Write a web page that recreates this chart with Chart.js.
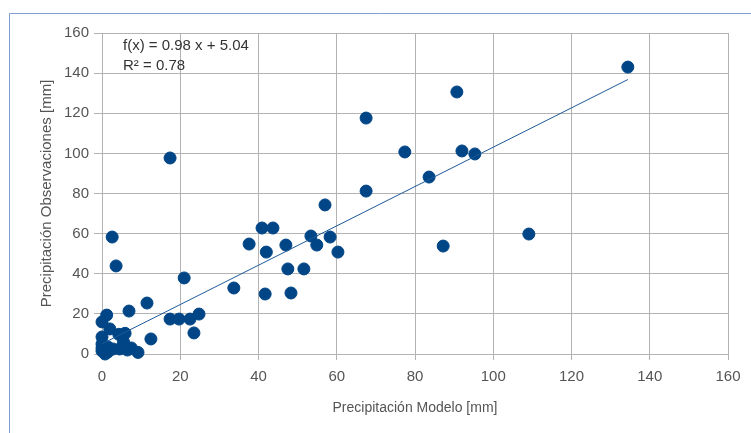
<!DOCTYPE html>
<html>
<head>
<meta charset="utf-8">
<script src="https://cdn.jsdelivr.net/npm/chart.js@4/dist/chart.umd.min.js"></script>
<style>
  html, body { margin: 0; padding: 0; background: #fff; }
  #wrap { width: 751px; height: 433px; position: relative; }
</style>
</head>
<body>
<div id="wrap"><canvas id="myChart"></canvas></div>
<script>
// model precipitation (x) vs observed precipitation (y), in mm
var modelo = [134.4, 90.7, 67.5, 77.4, 92.0, 95.3, 17.4, 83.6, 67.5, 57.0,
              40.9, 43.7, 37.6, 47.0, 53.4, 58.3, 54.9, 42.0, 60.3, 87.2,
              109.1, 2.6, 3.6, 47.5, 51.6, 21.0, 33.7, 41.7, 48.3, 11.5,
              6.9, 1.2, 24.8, 17.4, 19.7, 22.5, 0, 2.0, 23.5, 12.5,
              5.9, 4.3, 0, 0, 0, 0.8, 1.5, 2.8, 4.5, 5.8,
              6.5, 7.5, 9.2, 0, 1.5, 5.5];
var observado = [143.0, 130.6, 117.6, 100.7, 101.2, 99.7, 97.7, 88.2, 81.2, 74.3,
                 62.8, 62.8, 54.8, 54.3, 58.8, 58.3, 54.3, 50.8, 50.8, 53.8,
                 59.8, 58.3, 43.9, 42.4, 42.4, 37.9, 32.9, 29.9, 30.4, 25.4,
                 21.4, 19.4, 19.9, 17.4, 17.4, 17.4, 16, 12.5, 10.5, 7.5,
                 10.3, 9.8, 8.5, 5, 1.5, 0, 1, 2.5, 2.5, 4,
                 2, 3, 0.8, 3, 3.5, 6];
// linear trend line end points: f(x) = 0.98 x + 5.04
var tendenciaX = [0, 134.4];
var tendenciaY = [5.04, 136.8];
var ticks = [0, 20, 40, 60, 80, 100, 120, 140, 160];
var ecuacion = ['f(x) = 0.98 x + 5.04', 'R\u00b2 = 0.78'];

var puntos = [];
for (var i = 0; i < modelo.length; i++) {
    puntos.push({ x: modelo[i], y: observado[i] });
}
var linea = [];
for (var i = 0; i < tendenciaX.length; i++) {
    linea.push({ x: tendenciaX[i], y: tendenciaY[i] });
}

var marco = {
    id: 'marco',
    beforeDraw: function (chart) {
        var c = chart.ctx;
        c.save();
        c.fillStyle = '#ffffff';
        c.fillRect(0, 0, chart.width, chart.height);
        c.strokeStyle = '#7f9fcf';
        c.lineWidth = 1;
        c.beginPath();
        c.moveTo(9.5, chart.height);
        c.lineTo(9.5, 13.5);
        c.lineTo(chart.width, 13.5);
        c.stroke();
        c.restore();
    },
    afterDraw: function (chart) {
        var c = chart.ctx;
        c.save();
        c.font = '15px "Liberation Sans", Arial, sans-serif';
        c.fillStyle = '#333333';
        c.textBaseline = 'middle';
        c.fillText(ecuacion[0], 123, 46);
        c.fillText(ecuacion[1], 123, 66);
        c.restore();
    }
};

var ctx = document.getElementById('myChart').getContext('2d');
var myChart = new Chart(ctx, {
    type: 'scatter',
    data: {
        datasets: [
            {
                label: 'Observaciones',
                data: puntos,
                backgroundColor: '#004586',
                borderColor: '#004586',
                pointRadius: 6,
                pointHoverRadius: 6,
                clip: false,
                order: 1
            },
            {
                label: 'Tendencia',
                data: linea,
                showLine: true,
                borderColor: '#1c5a9a',
                borderWidth: 1,
                pointRadius: 0,
                fill: false,
                order: 0
            }
        ]
    },
    options: {
        responsive: true,
        maintainAspectRatio: false,
        animation: false,
        layout: { padding: { top: 33, right: 23, left: 0, bottom: 0 } },
        plugins: {
            legend: { display: false },
            tooltip: { enabled: false }
        },
        scales: {
            x: {
                type: 'linear',
                min: 0,
                max: 160,
                afterBuildTicks: function (scale) {
                    scale.ticks = ticks.map(function (v) { return { value: v }; });
                },
                afterFit: function (scale) { scale.height = 79; },
                grid: { color: '#b3b3b3', tickLength: 6, drawTicks: true },
                border: { color: '#b3b3b3' },
                ticks: {
                    color: '#555555',
                    padding: 8,
                    maxRotation: 0,
                    font: { family: '"Liberation Sans", Arial, sans-serif', size: 15 }
                },
                title: {
                    display: true,
                    text: 'Precipitación Modelo [mm]',
                    color: '#555555',
                    padding: { top: 0, bottom: 16 },
                    font: { family: '"Liberation Sans", Arial, sans-serif', size: 14 }
                }
            },
            y: {
                type: 'linear',
                min: 0,
                max: 160,
                afterBuildTicks: function (scale) {
                    scale.ticks = ticks.map(function (v) { return { value: v }; });
                },
                afterFit: function (scale) { scale.width = 102; },
                grid: { color: '#b3b3b3', tickLength: 8 },
                border: { color: '#b3b3b3' },
                ticks: {
                    color: '#555555',
                    padding: 5,
                    font: { family: '"Liberation Sans", Arial, sans-serif', size: 15 }
                },
                title: {
                    display: true,
                    text: 'Precipitación Observaciones [mm]',
                    color: '#555555',
                    padding: { top: 38, bottom: 0 },
                    font: { family: '"Liberation Sans", Arial, sans-serif', size: 15 }
                }
            }
        }
    },
    plugins: [marco]
});
</script>
</body>
</html>
